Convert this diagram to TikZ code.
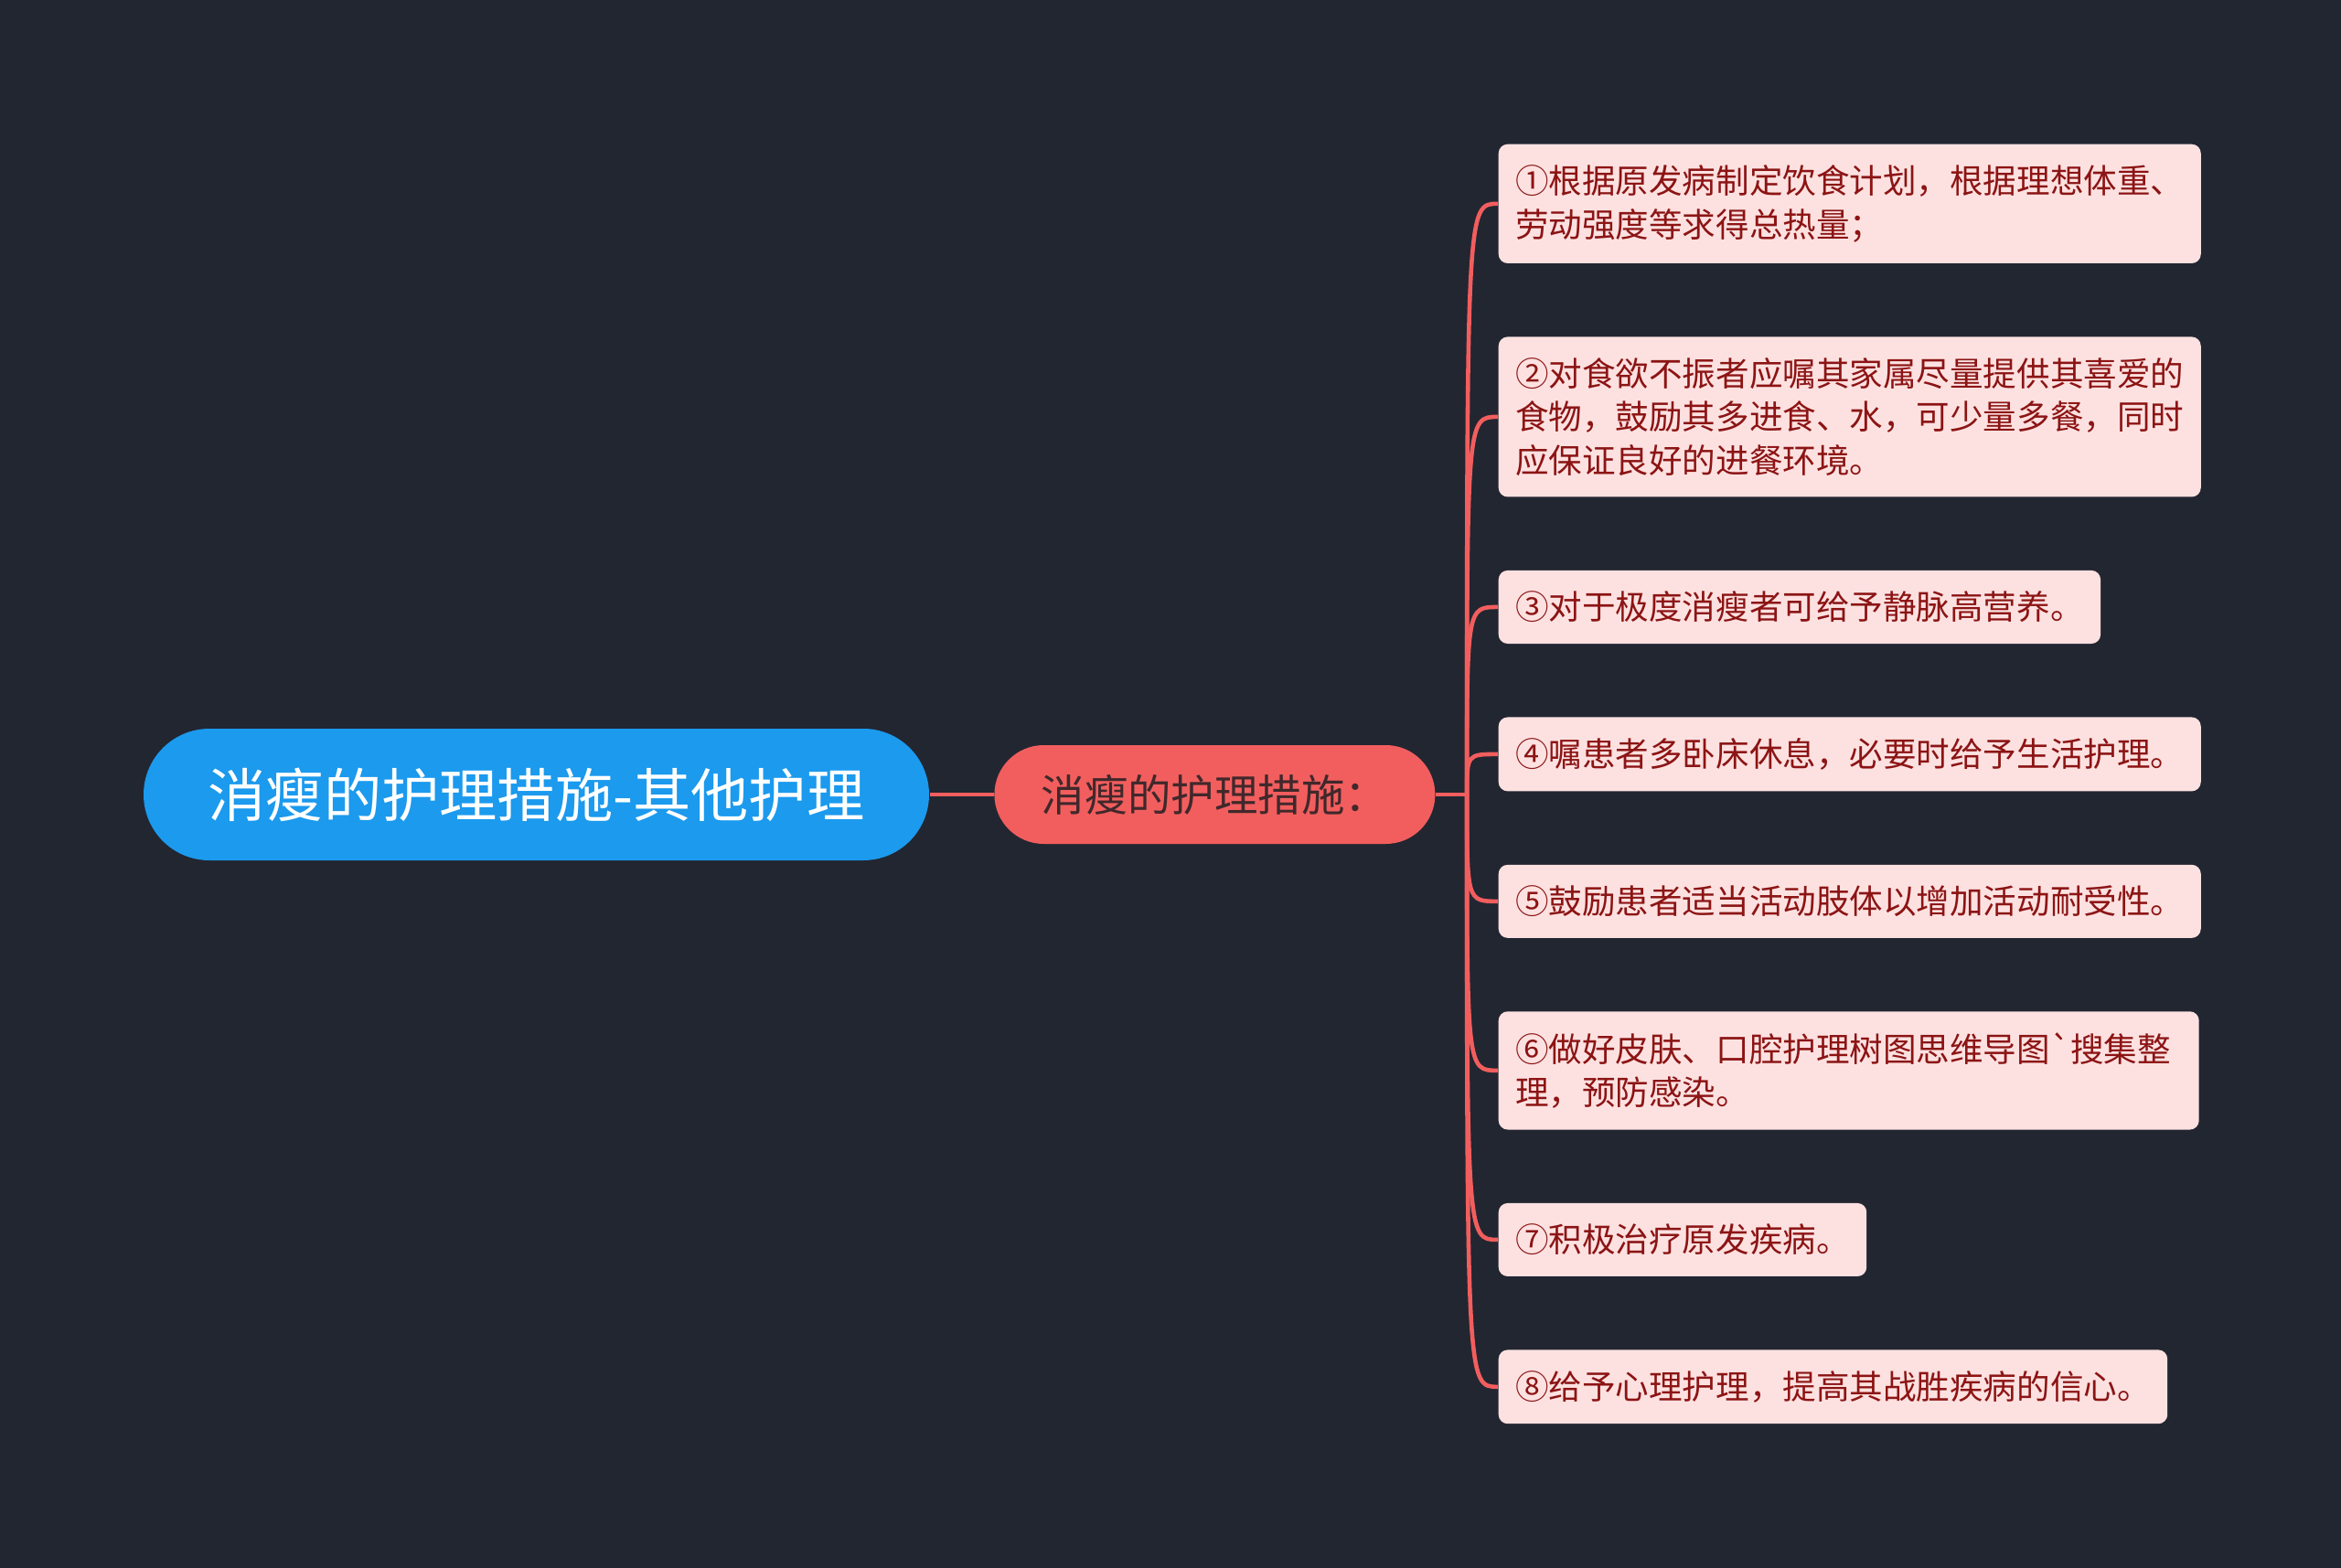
\documentclass[tikz,border=0pt]{standalone}
\usepackage{fontspec}
\newfontfamily\cjk{Noto Sans CJK SC}
\usepackage{xcolor}
\usepackage{tikz}
\usetikzlibrary{positioning}
\definecolor{bgdark}{HTML}{222631}
\definecolor{rootblue}{HTML}{1B9AEE}
\definecolor{subred}{HTML}{F25E5E}
\definecolor{leafpink}{HTML}{FDE1E1}
\definecolor{leaftext}{HTML}{8C1414}
\definecolor{subtext}{HTML}{40282B}

\begin{document}
\begin{tikzpicture}[node distance=0.79cm,
  rootnode/.style={fill=rootblue,text=white,rounded corners=0.72cm,minimum width=8.59cm,minimum height=1.44cm,font=\cjk\fontsize{18}{22}\selectfont},
  subnode/.style={fill=subred,text=subtext,rounded corners=0.54cm,minimum width=4.82cm,minimum height=1.08cm,font=\cjk\fontsize{13.5}{16}\selectfont},
  leaf/.style={fill=leafpink,text=leaftext,rounded corners=0.1cm,align=left,inner xsep=0.185cm,inner ysep=0.23cm,font=\cjk\fontsize{10.4}{13.5}\selectfont},
  link/.style={draw=subred,line width=1.3pt}]
  \fill[bgdark] (0,0) rectangle (25.6,-17.15);
  \useasboundingbox (0,0) rectangle (25.6,-17.15);
  \node[rootnode] (R) at (5.865,-8.69) {消瘦的护理措施-其他护理};
  \node[subnode,right=0.7cm of R] (M) {消瘦的护理措施：};
  \coordinate[right=0.34cm of M] (J);
  \node[leaf,anchor=north west] (L1) at (16.38,-1.57) {①根据原发病制定饮食计划，根据理想体重、\\劳动强度等求得总热量；};
  \node[leaf,below=of L1.south west,anchor=north west] (L2) {②对食欲不振者应嘱其家属尽量提供其喜爱的\\食物，鼓励其多进食、水，可少量多餐，同时\\应保证良好的进餐环境。};
  \node[leaf,below=of L2.south west,anchor=north west] (L3) {③对于极度消瘦者可给予静脉高营养。};
  \node[leaf,below=of L3.south west,anchor=north west] (L4) {④嘱患者多卧床休息，必要时给予生活护理。};
  \node[leaf,below=of L4.south west,anchor=north west] (L5) {⑤鼓励患者适当活动肢体以增加活动耐受性。};
  \node[leaf,text width=7.29cm,below=of L5.south west,anchor=north west] (L6) {⑥做好皮肤、口腔护理树图思维导图{\char"60}搜集整\\理，预防感染。};
  \node[leaf,below=of L6.south west,anchor=north west] (L7) {⑦积极治疗原发疾病。};
  \node[leaf,below=of L7.south west,anchor=north west] (L8) {⑧给予心理护理，提高其战胜疾病的信心。};
  \draw[link] (R) -- (M);
  \draw[link] (M) -- (J);
  \foreach \k in {1,...,8}
    \draw[link] (J) .. controls (J |- L\k.west) .. (L\k.west);
\end{tikzpicture}
\end{document}
